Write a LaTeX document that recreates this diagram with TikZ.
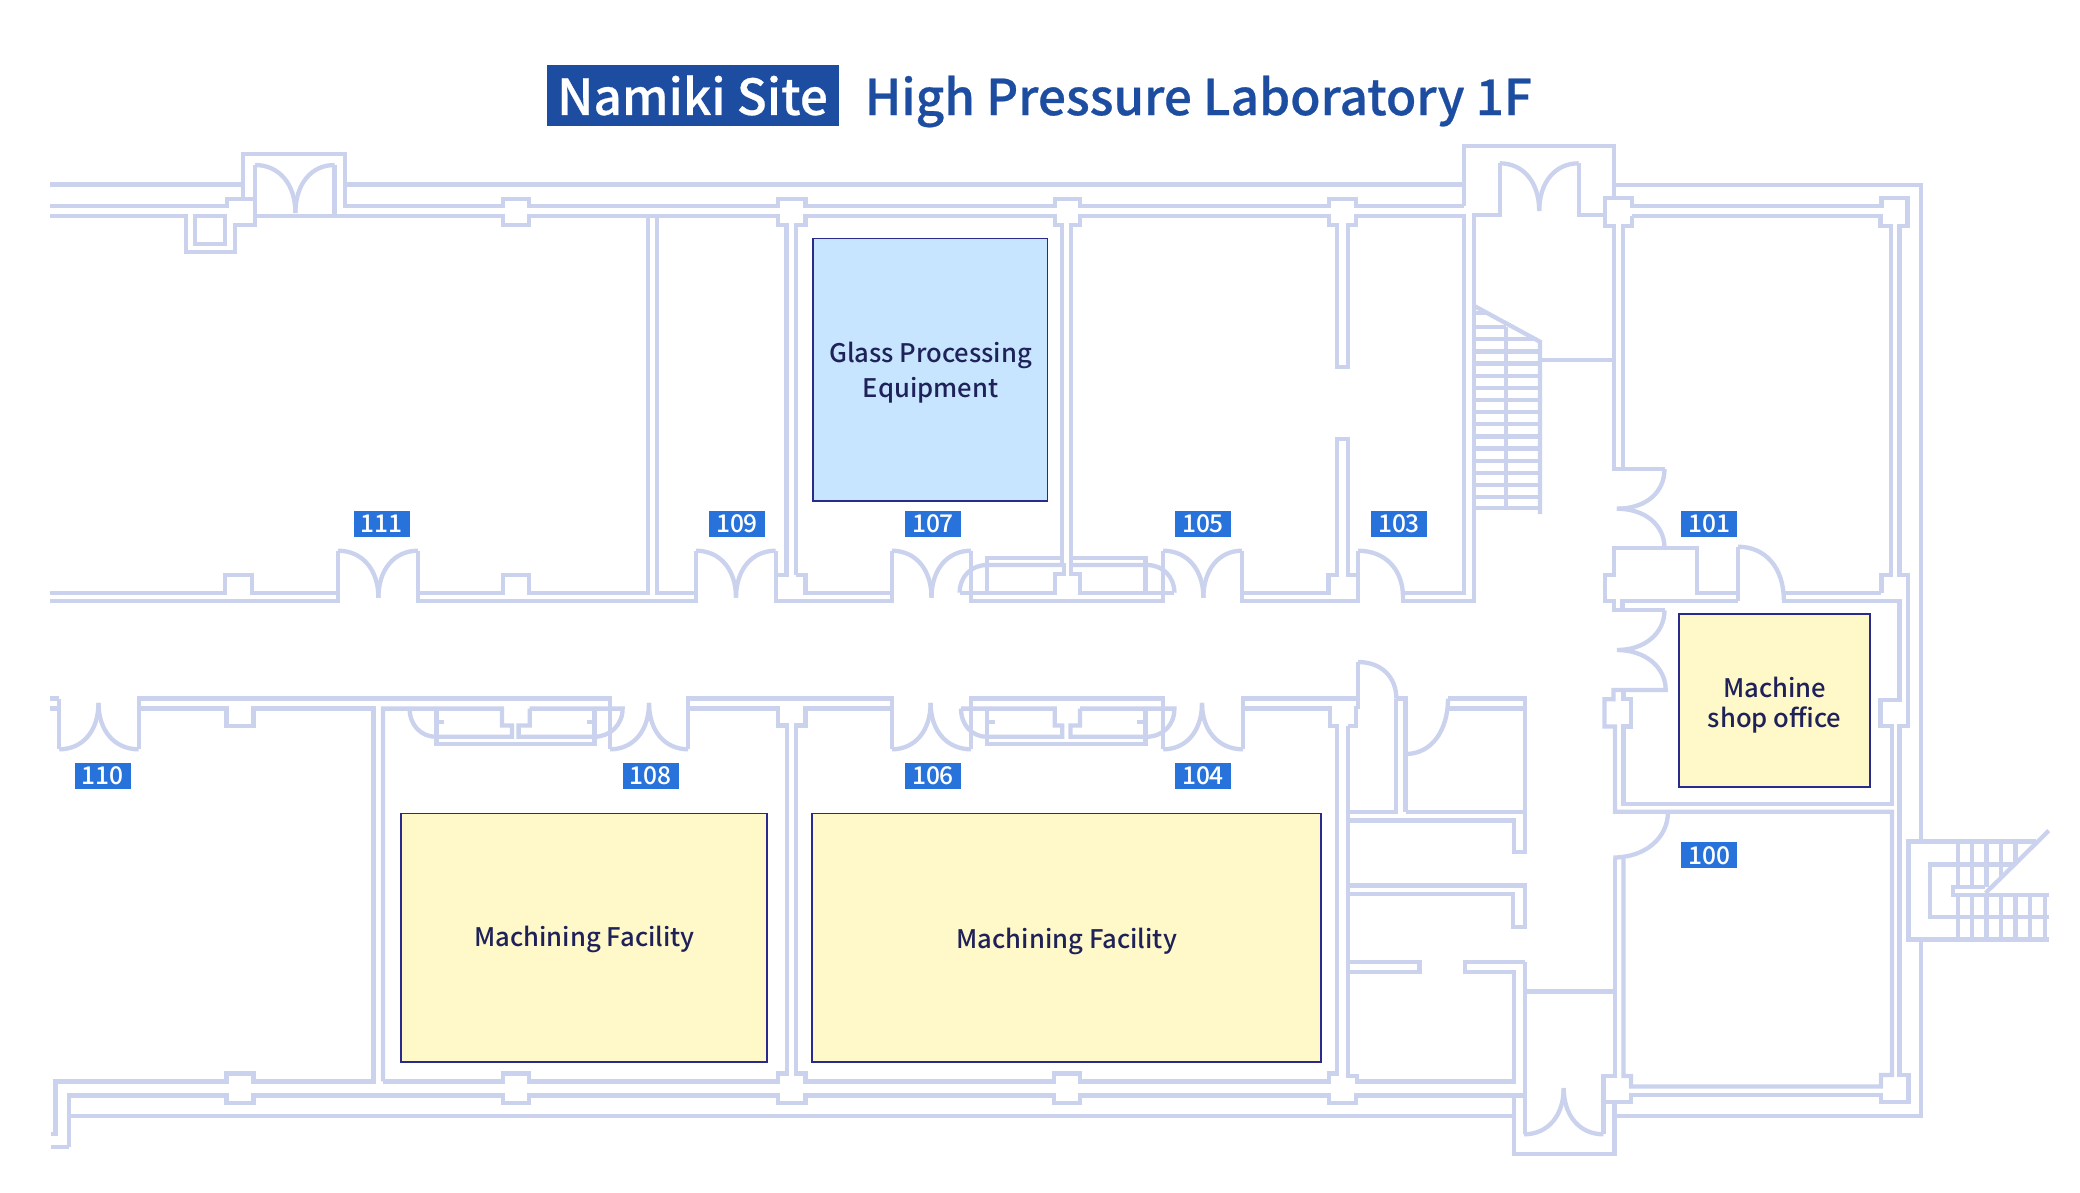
\documentclass[tikz,border=0pt]{standalone}
\usepackage{fontspec}
\setmainfont{Noto Sans CJK JP}
\newfontfamily\notomed{Noto Sans CJK JP Medium}
\newfontfamily\notosemi[FakeBold=0.5]{Noto Sans CJK JP Medium}
\definecolor{wallc}{HTML}{CAD2EE}
\definecolor{boxline}{HTML}{2A2A8C}
\definecolor{txtc}{HTML}{1E2258}
\definecolor{yel}{HTML}{FFF8C8}
\definecolor{lblue}{HTML}{C8E5FF}
\definecolor{tagc}{HTML}{2873DB}
\definecolor{titlec}{HTML}{1C4DA1}
\tikzset{
 wall/.style={draw=wallc,line width=4.3pt,miter limit=10},
 room/.style={draw=boxline,line width=1.8pt},
 tag/.style={fill=tagc,text=white,inner sep=0pt,minimum width=56pt,minimum height=26pt,font=\notomed\fontsize{24.5}{26}\selectfont},
 eqp/.style={text=txtc,align=center,font=\notomed\fontsize{25.6}{35}\selectfont},
}
% horizontal start, vertical end
\newcommand{\leafh}[4]{\draw[wall] (#1,#2) .. controls ({#1+0.6*(#3-#1)},#2) and (#3,{#2+0.4*(#4-#2)}) .. (#3,#4);}
% vertical start, horizontal end
\newcommand{\leafv}[4]{\draw[wall] (#1,#2) .. controls (#1,{#2+0.6*(#4-#2)}) and ({#1+0.4*(#3-#1)},#4) .. (#3,#4);}
\newcommand{\dbldoor}[5]{\leafh{#1}{#4}{#2}{#5}\leafh{#3}{#4}{#2}{#5}}
\begin{document}
\begin{tikzpicture}[x=1pt,y=-1pt]
\useasboundingbox (0,0) rectangle (2080,1192);
\fill[white] (0,0) rectangle (2080,1192);

% ---- top wall, west
\draw[wall] (50,184.5)--(243,184.5);
\draw[wall] (243,199)--(243,153.7)--(345,153.7)--(345,206.3)--(503,206.3)--(503,199)--(529,199)--(529,206.3)--(778,206.3)--(778,199)--(805.6,199)--(805.6,206.3)--(1054.7,206.3)--(1054.7,199)--(1080,199)--(1080,206.3)--(1329,206.3)--(1329,199)--(1356,199)--(1356,206.3)--(1463.7,206.3);
\draw[wall] (345,184.5)--(1463.7,184.5);
\draw[wall] (50,206.3)--(227,206.3)--(227,199)--(255,199)--(255,225)--(235,225)--(235,252)--(186,252)--(186,216)--(50,216);
\draw[wall] (195,216) rectangle (225,244);
\draw[wall] (255,165)--(255,216)--(503,216)--(503,225)--(529,225)--(529,216)--(778,216)--(778,225)--(786.4,225)--(786.4,575)--(775.7,575);
\draw[wall] (334.6,165)--(334.6,216);
\dbldoor{255}{295.4}{334.6}{165}{213}
\draw[wall] (795.8,575)--(795.8,225)--(805.6,225)--(805.6,216)--(1054.7,216)--(1054.7,225)--(1062.3,225)--(1062.3,565);
\draw[wall] (1071.2,565)--(1071.2,225)--(1080,225)--(1080,216)--(1329,216)--(1329,225)--(1337.3,225)--(1337.3,367.3)--(1348,367.3)--(1348,225)--(1356,225)--(1356,216)--(1463.7,216)--(1463.7,592.7)--(1403,592.7);

% ---- corridor north side
\draw[wall] (50,592.7)--(225.3,592.7)--(225.3,575)--(252,575)--(252,592.7)--(338,592.7);
\draw[wall] (50,600.7)--(338,600.7)--(338,550.7);
\dbldoor{338}{378.4}{418}{550.7}{597.7}
\draw[wall] (418,550.7)--(418,600.7)--(696,600.7)--(696,550.7);
\draw[wall] (418,592.7)--(503,592.7)--(503,575)--(529,575)--(529,592.7)--(648,592.7)--(648,216);
\draw[wall] (657,216)--(657,592.7)--(696,592.7);
\dbldoor{696}{736}{775.7}{550.7}{597.7}
\draw[wall] (775.7,550.7)--(775.7,600.7)--(891.8,600.7)--(891.8,550.7);
\draw[wall] (795.8,575)--(805.6,575)--(805.6,592.7)--(891.8,592.7);
\dbldoor{891.8}{931.5}{971}{550.7}{597.7}
\draw[wall] (971,550.7)--(971,600.7)--(1163,600.7)--(1163,550.7);
\dbldoor{1163}{1203.4}{1242}{550.7}{597.7}
\draw[wall] (1242,550.7)--(1242,600.7)--(1358,600.7)--(1358,550.7);
\draw[wall] (1242,592.7)--(1328.4,592.7)--(1328.4,575)--(1337.3,575)--(1337.3,439.3)--(1348,439.3)--(1348,575)--(1358,575);
\leafh{1358}{550.7}{1403}{597}
\draw[wall] (1403,597)--(1403,600.7)--(1473.7,600.7)--(1473.7,215)--(1499.7,215)--(1499.7,163.3);
% sliding box north
\draw[wall] (987,592.7)--(987,557.7)--(1062.3,557.7);
\draw[wall] (1071.2,557.7)--(1145.4,557.7)--(1145.4,592.7);
\draw[wall] (1062.3,565)--(1063.7,565)--(1063.7,574)--(1054.7,574)--(1054.7,592.7)--(959.6,592.7);
\draw[wall] (1063.7,565)--(987,565) .. controls (971,565) and (959.6,577) .. (959.6,592.7);
\draw[wall] (1071.2,565)--(1071.2,574)--(1080,574)--(1080,592.7)--(1174.4,592.7);
\draw[wall] (1071.2,565)--(1147,565) .. controls (1163,565) and (1174.4,577) .. (1174.4,592.7);

% ---- north entrance east
\draw[wall] (1463.7,206.3)--(1463.7,146)--(1614,146)--(1614,198);
\dbldoor{1499.7}{1539.2}{1578.7}{163.3}{211}
\draw[wall] (1578.7,163.3)--(1578.7,215)--(1604.7,215);
\draw[wall] (1614,184.7)--(1921,184.7)--(1921,841.4);
\draw[wall] (1632,216)--(1632,225.7)--(1623.3,225.7)--(1623.3,469);
\draw[wall] (1664.5,469)--(1614.2,469)--(1614.2,225.7)--(1604.7,225.7)--(1604.7,198)--(1632,198)--(1632,206.3)--(1881.4,206.3)--(1881.4,198)--(1907.4,198)--(1907.4,225.7)--(1899.6,225.7)--(1899.6,575)--(1908,575)--(1908,726)--(1899.5,726)--(1899.5,1075)--(1908.5,1075)--(1908.5,1102)--(1881,1102)--(1881,1095)--(1631,1095)--(1631,1102)--(1603.5,1102)--(1603.5,1134);
\draw[wall] (1881.4,592.7)--(1881.4,575)--(1891.3,575)--(1891.3,225.7)--(1880.5,225.7)--(1880.5,216)--(1632,216);
\leafv{1664.5}{469}{1616.8}{508.7}
\draw[wall] (1616.8,508.7) .. controls (1645,508.7) and (1664.5,525) .. (1664.5,548);
\draw[wall] (1738,592.7)--(1697,592.7)--(1697,548)--(1614.2,548)--(1614.2,575)--(1604.7,575)--(1604.7,600.7)--(1614.2,600.7)--(1614.2,610.3)--(1664.5,610.3);
\draw[wall] (1622.5,610.3)--(1622.5,600.7)--(1738,600.7);
\draw[wall] (1738,600.7)--(1738,546.7);
\leafh{1738}{546.7}{1783.8}{600}
\draw[wall] (1881.4,592.7)--(1783.8,592.7)--(1783.8,600.7)--(1899.6,600.7)--(1899.6,700)--(1880.6,700)--(1880.6,726)--(1892,726)--(1892,804)--(1623.4,804)--(1623.4,726.4)--(1631,726.4)--(1631,699)--(1623.4,699)--(1623.4,690);
\draw[wall] (1664.5,610.3) .. controls (1664.5,633) and (1645,650) .. (1617,650) .. controls (1645,650) and (1665.7,667) .. (1665.7,690)--(1613.4,690)--(1613.4,699.3)--(1604.5,699.3)--(1604.5,726.4)--(1615,726.4)--(1615,811.8)--(1892,811.8)--(1892,1075)--(1881,1075)--(1881,1086.4)--(1631,1086.4)--(1631,1076)--(1623.4,1076)--(1623.4,859);
\draw[wall] (1668,811.8) .. controls (1668,838) and (1645,857.5) .. (1613.4,857.5);
\draw[wall] (1615,857.5)--(1615,1076)--(1603.5,1076)--(1603.5,1102);

% ---- stair 1
\draw[wall] (1473.7,305.7)--(1540,341.7)--(1540,514);
\draw[wall] (1506.2,326.7)--(1506.2,507.7);
\draw[wall] (1540,360)--(1614.2,360);
\draw[wall] (1473.7,313.3)--(1487,313.3);
\draw[wall] (1473.7,326.7)--(1506.2,326.7);
\draw[wall] (1473.7,339)--(1537,339);
\foreach \tt in {351.4,363.6,375.7,387.8,400,412.1,424.3,436.4,448.6,460.7,472.8,485,497,507.7}{
 \draw[wall] (1473.7,\tt)--(1540,\tt);}

% ---- corridor south side
\draw[wall] (50,698.6)--(59.2,698.6);
\draw[wall] (50,708.6)--(59.2,708.6);
\draw[wall] (59.2,698.6)--(59.2,749.3);
\dbldoor{59.2}{98.5}{138.7}{749.3}{702.9}
\draw[wall] (138.7,749.3)--(138.7,698.6)--(610,698.6)--(610,749.3);
\dbldoor{610}{649}{688.2}{749.3}{702.9}
\draw[wall] (688.2,749.3)--(688.2,698.6)--(891.8,698.6)--(891.8,749.3);
\dbldoor{891.8}{930.6}{971.2}{749.3}{702.9}
\draw[wall] (971.2,749.3)--(971.2,698.6)--(1163.2,698.6)--(1163.2,749.3);
\dbldoor{1163.2}{1202}{1243}{749.3}{702.9}
\draw[wall] (1243,749.3)--(1243,698.6)--(1358,698.6);
\draw[wall] (138.7,708.6)--(226.6,708.6)--(226.6,726)--(253.4,726)--(253.4,708.6)--(373.5,708.6)--(373.5,1081.4)--(253.4,1081.4)--(253.4,1073.6)--(226.6,1073.6)--(226.6,1081.4)--(55.6,1081.4)--(55.6,1134)--(50.7,1134);
\draw[wall] (382.9,1081.4)--(382.9,708.6)--(502,708.6)--(502,725.4)--(511.9,725.4)--(511.9,736.8)--(436,736.8) .. controls (421,736.8) and (409.6,725) .. (409.6,708.6);
\draw[wall] (529.7,708.6)--(529.7,725.4)--(518.6,725.4)--(518.6,736.8)--(594,736.8) .. controls (610,736.8) and (622.6,725) .. (622.6,708.6)--(529.7,708.6);
\draw[wall] (436.4,708.6)--(436.4,744.3)--(594.5,744.3)--(594.5,708.6);
\draw[wall] (436.4,722)--(444,722);
\draw[wall] (587,722)--(594.5,722);
\draw[wall] (688.2,708.6)--(778,708.6)--(778,725.4)--(787,725.4)--(787,1073.6)--(778,1073.6)--(778,1081.4)--(528.8,1081.4)--(528.8,1073.6)--(503,1073.6)--(503,1081.4)--(382.9,1081.4);
\draw[wall] (891.8,708.6)--(805.6,708.6)--(805.6,725.4)--(795.8,725.4)--(795.8,1073.6)--(805.6,1073.6)--(805.6,1081.4)--(1053.8,1081.4)--(1053.8,1073.6)--(1080,1073.6)--(1080,1081.4)--(1329,1081.4)--(1329,1073.6)--(1337.3,1073.6)--(1337.3,726)--(1330,726)--(1330,708.6)--(1243,708.6);
\draw[wall] (1348,726)--(1348,1075.9)--(1357,1075.9)--(1357,1081.4)--(1514,1081.4)--(1514,971.8)--(1465,971.8)--(1465,961.8)--(1525,961.8);
\draw[wall] (1348,726)--(1356,726)--(1356,708.6)--(1358,708.6);
% sliding box south
\draw[wall] (961,708.6)--(1054.7,708.6)--(1054.7,725.4)--(1062.3,725.4)--(1062.3,736.8)--(987,736.8) .. controls (972,736.8) and (961,725) .. (961,708.6);
\draw[wall] (1080,708.6)--(1080,725.4)--(1070.4,725.4)--(1070.4,736.8)--(1146,736.8) .. controls (1163,736.8) and (1174.4,725) .. (1174.4,708.6)--(1080,708.6);
\draw[wall] (986.9,708.6)--(986.9,744.3)--(1145.4,744.3)--(1145.4,708.6);
\draw[wall] (986.9,722)--(995,722);
\draw[wall] (1137,722)--(1145.4,722);

% ---- south-east rooms
\leafh{1358}{662}{1396.3}{698.6}
\draw[wall] (1358,662)--(1358,709);
\draw[wall] (1396.3,698.6)--(1396.3,811.8)--(1348,811.8);
\draw[wall] (1396.3,698.6)--(1405.5,698.6)--(1405.5,811.8);
\draw[wall] (1405.5,811.8)--(1525,811.8);
\draw[wall] (1448,698.6)--(1525,698.6)--(1525,852)--(1514,852)--(1514,820.4)--(1348,820.4);
\draw[wall] (1448,708.6)--(1525,708.6);
\draw[wall] (1448,698.6) .. controls (1448,730) and (1432,754) .. (1405.5,754);
\draw[wall] (1348,885.4)--(1525,885.4)--(1525,927)--(1513,927)--(1513,894.3)--(1348,894.3);
\draw[wall] (1348,961.8)--(1419.4,961.8)--(1419.4,971.8)--(1348,971.8);
\draw[wall] (1525,961.8)--(1525,1134);
\draw[wall] (1524,991.4)--(1615,991.4);
\dbldoor{1524}{1563.7}{1603.5}{1134.3}{1088}

% ---- south wall
\draw[wall] (69,1146.8)--(50.7,1146.8);
\draw[wall] (69,1146.8)--(69,1095.4)--(226.6,1095.4)--(226.6,1102.9)--(253.4,1102.9)--(253.4,1095.4)--(503,1095.4)--(503,1102.9)--(528.8,1102.9)--(528.8,1095.4)--(778,1095.4)--(778,1102.9)--(805.6,1102.9)--(805.6,1095.4)--(1053.8,1095.4)--(1053.8,1102.9)--(1080,1102.9)--(1080,1095.4)--(1329,1095.4)--(1329,1102.9)--(1356,1102.9)--(1356,1095.4)--(1524,1095.4);
\draw[wall] (69,1116)--(1514,1116);
\draw[wall] (1514,1095.4)--(1514,1154)--(1614.4,1154)--(1614.4,1102);
\draw[wall] (1614.4,1115.7)--(1921,1115.7)--(1921,939.6);

% ---- stair 2
\draw[wall] (2036,841.4)--(1908.5,841.4)--(1908.5,939.6)--(2048.7,939.6);
\draw[wall] (2014,864.6)--(1930.3,864.6)--(1930.3,917)--(2048.7,917);
\draw[wall] (2048.7,830.7)--(1985.6,893);
\draw[wall] (1985,887)--(1952.7,887)--(1952.7,895)--(2048.7,895);
\draw[wall] (1957.7,841.4)--(1957.7,887);
\draw[wall] (1972,841.4)--(1972,887);
\draw[wall] (1986.4,841.4)--(1986.4,887);
\draw[wall] (2000.8,841.4)--(2000.8,878);
\draw[wall] (2015.4,841.4)--(2015.4,864);
\foreach \vv in {1957.7,1972,1986.4,2000.8,2015.4,2030,2045}{\draw[wall] (\vv,895)--(\vv,939.6);}

% ---- equipment
\node[room,fill=lblue,minimum width=234.5pt,minimum height=262.2pt,inner sep=0pt] (glass) at (930.3,369.6) {};
\node[eqp] (glasst) at (930.6,373) {Glass Processing\\Equipment};
\node[room,fill=yel,minimum width=366.2pt,minimum height=248.2pt,inner sep=0pt] (mach1) at (584,937.5) {};
\node[eqp] (mach1t) at (584.6,939) {Machining Facility};
\node[room,fill=yel,minimum width=509pt,minimum height=248.2pt,inner sep=0pt] (mach2) at (1066.5,937.5) {};
\node[eqp] (mach2t) at (1066.8,941) {Machining Facility};
\node[room,fill=yel,minimum width=191pt,minimum height=173pt,inner sep=0pt] (office) at (1774.8,700.7) {};
\node[eqp,font=\notomed\fontsize{25.6}{29.5}\selectfont] (officet) at (1774.6,705) {Machine\\shop office};

% ---- tags
\node[tag] (t111) at (381.5,523.7) {\raisebox{-0.6pt}{111}};
\node[tag] (t109) at (737,523.7) {\raisebox{-0.6pt}{109}};
\node[tag] (t107) at (933,523.7) {\raisebox{-0.6pt}{107}};
\node[tag] (t105) at (1203,523.7) {\raisebox{-0.6pt}{105}};
\node[tag] (t103) at (1399,523.7) {\raisebox{-0.6pt}{103}};
\node[tag] (t101) at (1709,523.7) {\raisebox{-0.6pt}{101}};
\node[tag] (t110) at (102.5,775.7) {\raisebox{-0.6pt}{110}};
\node[tag] (t108) at (650.5,775.7) {\raisebox{-0.6pt}{108}};
\node[tag] (t106) at (933,775.7) {\raisebox{-0.6pt}{106}};
\node[tag] (t104) at (1203,775.7) {\raisebox{-0.6pt}{104}};
\node[tag] (t100) at (1709,855.3) {\raisebox{-0.6pt}{100}};

% ---- title
\node[fill=titlec,text=white,inner sep=0pt,minimum width=292pt,minimum height=61pt,font=\notosemi\fontsize{49.5}{60}\selectfont] (ttl) at (692.5,95.5) {\raisebox{-1.5pt}{Namiki Site}};
\node[text=titlec,anchor=west,inner sep=0pt,font=\notosemi\fontsize{49.5}{60}\selectfont] (ttr) at (864.5,101.5) {High Pressure Laboratory 1F};
\end{tikzpicture}
\end{document}
